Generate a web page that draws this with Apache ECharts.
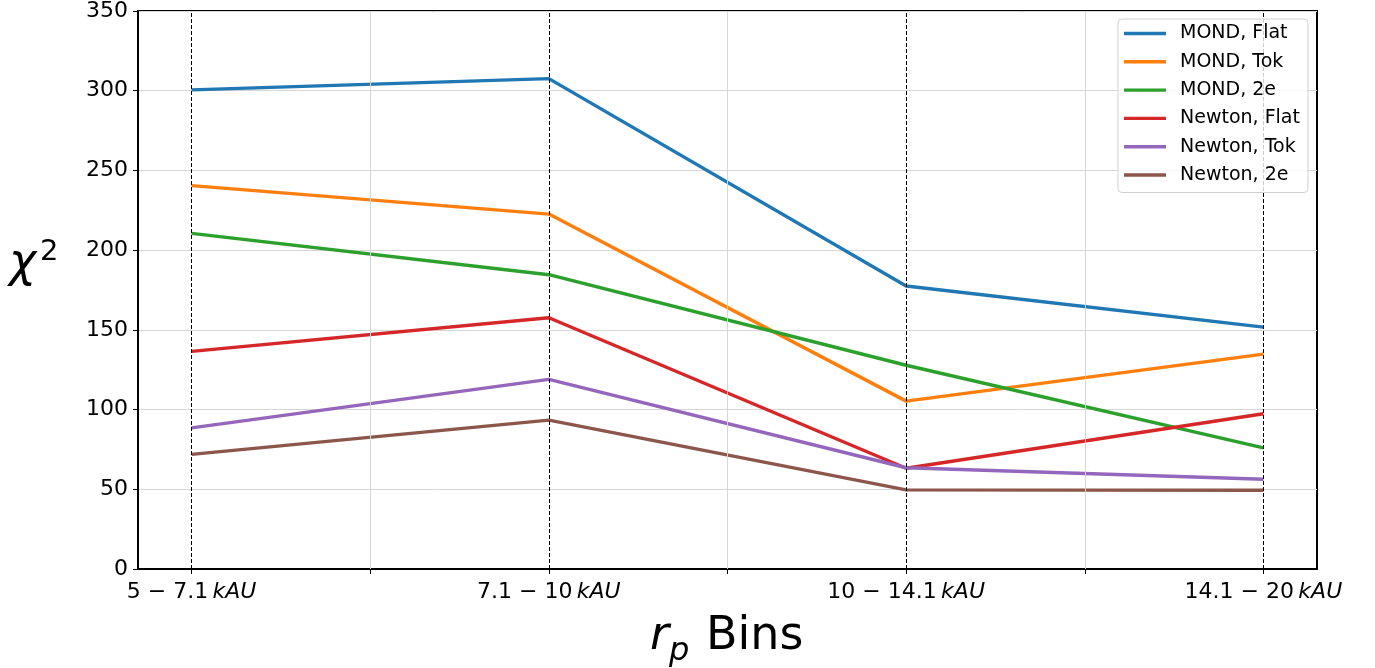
<!DOCTYPE html>
<html>
<head>
<meta charset="utf-8">
<script src="https://cdn.jsdelivr.net/npm/echarts@6/dist/echarts.min.js"></script>
<style>
html,body{margin:0;padding:0;background:#fff;}
#chart{width:1375px;height:668px;}
</style>
</head>
<body>
<div id="chart"></div>
<script>
// ---- data ----
const binStarts = ['5', '7.1', '10', '14.1'];
const binEnds = ['7.1', '10', '14.1', '20'];
const binUnit = 'kAU';
const yTicks = [0, 50, 100, 150, 200, 250, 300, 350];
const seriesNames = ['MOND, Flat', 'MOND, Tok', 'MOND, 2e', 'Newton, Flat', 'Newton, Tok', 'Newton, 2e'];
const mondFlat   = [300.5, 307.6, 177.5, 151.7];
const mondTok    = [240.5, 222.6, 105.3, 134.8];
const mond2e     = [210.5, 184.6, 127.8, 76.0];
const newtonFlat = [136.5, 157.6, 63.2, 97.4];
const newtonTok  = [88.5, 118.9, 63.5, 56.3];
const newton2e   = [71.9, 93.4, 49.6, 49.4];
const colors = ['#1f77b4', '#ff7f0e', '#2ca02c', '#d62728', '#9467bd', '#8c564b'];

const allValues = [mondFlat, mondTok, mond2e, newtonFlat, newtonTok, newton2e];
const binIdx = binStarts.map((_, i) => i);
const halfIdx = [];
for (let i = 0; i <= binStarts.length - 1; i += 0.5) halfIdx.push(i);
const minorIdx = halfIdx.filter(v => v % 1 !== 0);

const FONT = 'DejaVu Sans';
const chart = echarts.init(document.getElementById('chart'));

const dataSeries = seriesNames.map((name, s) => ({
  name: name,
  type: 'line',
  data: binIdx.map(i => [i, allValues[s][i]]),
  symbol: 'none',
  z: 3,
  lineStyle: { width: 3.4, color: colors[s] },
  itemStyle: { color: colors[s] },
  animation: false
}));

const option = {
  animation: false,
  color: colors,
  grid: {
    left: 138, right: 58, top: 8, bottom: 99,
    show: true, borderColor: '#000', borderWidth: 2, backgroundColor: 'transparent'
  },
  legend: {
    data: seriesNames,
    orient: 'vertical',
    left: 1118, top: 19,
    padding: [5, 8, 8, 6],
    icon: 'rect',
    itemWidth: 42, itemHeight: 3.4, itemGap: 9.3,
    backgroundColor: 'rgba(255,255,255,0.8)',
    borderColor: '#d0d0d0', borderWidth: 1, borderRadius: 4,
    textStyle: { fontFamily: FONT, fontSize: 19, lineHeight: 19, color: '#000', padding: [0, 0, 0, 9] },
    z: 10
  },
  xAxis: {
    type: 'value',
    min: -0.15, max: 3.15,
    axisLine: { show: true, onZero: false, lineStyle: { color: '#000', width: 2 } },
    axisTick: { show: true, inside: false, length: 5, customValues: halfIdx, lineStyle: { color: '#000', width: 1 } },
    splitLine: { show: false },
    axisLabel: {
      customValues: binIdx,
      margin: 12,
      formatter: v => {
        const i = Math.round(v);
        return '{n|' + binStarts[i] + ' \u2212 ' + binEnds[i] + '\u2009}{k|' + binUnit + '}';
      },
      rich: {
        n: { fontFamily: FONT, fontSize: 22, color: '#000' },
        k: { fontFamily: FONT, fontSize: 22, fontStyle: 'italic', color: '#000' }
      }
    }
  },
  yAxis: {
    type: 'value',
    min: 0, max: 350, interval: 50,
    axisLine: { show: true, onZero: false, lineStyle: { color: '#000', width: 2 } },
    axisTick: { show: true, inside: false, length: 5, lineStyle: { color: '#000', width: 1 } },
    splitLine: { show: true, lineStyle: { color: '#d6d6d6', width: 1 } },
    axisLabel: { fontFamily: FONT, fontSize: 22, color: '#000', margin: 10 }
  },
  graphic: [
    { type: 'text', x: 9, y: 264, z: 20,
      style: { text: '\u03C7', fontFamily: FONT, fontSize: 46, fontStyle: 'italic', fill: '#000', verticalAlign: 'middle', align: 'left' } },
    { type: 'text', x: 40, y: 252, z: 20,
      style: { text: '2', fontFamily: FONT, fontSize: 29, fill: '#000', verticalAlign: 'middle', align: 'left' } },
    { type: 'text', x: 650, y: 637, z: 20,
      style: { text: 'r', fontFamily: FONT, fontSize: 46, fontStyle: 'italic', fill: '#000', verticalAlign: 'middle', align: 'left' } },
    { type: 'text', x: 669, y: 652, z: 20,
      style: { text: 'p', fontFamily: FONT, fontSize: 32, fontStyle: 'italic', fill: '#000', verticalAlign: 'middle', align: 'left' } },
    { type: 'text', x: 706, y: 637, z: 20,
      style: { text: 'Bins', fontFamily: FONT, fontSize: 46, fill: '#000', verticalAlign: 'middle', align: 'left' } }
  ],
  series: [
    {
      name: '_grid', type: 'line', data: [], z: 1, silent: true,
      markLine: {
        silent: true, symbol: 'none', label: { show: false }, animation: false,
        lineStyle: { color: '#d6d6d6', width: 1, type: 'solid' },
        data: minorIdx.map(v => ({ xAxis: v }))
      }
    },
    ...dataSeries,
    {
      name: '_bins', type: 'line', data: [], z: 4, silent: true,
      markLine: {
        silent: true, symbol: 'none', label: { show: false }, animation: false,
        lineStyle: { color: '#000', width: 1, type: [4, 2] },
        data: binIdx.map(v => ({ xAxis: v }))
      }
    }
  ]
};
chart.setOption(option);
</script>
</body>
</html>
